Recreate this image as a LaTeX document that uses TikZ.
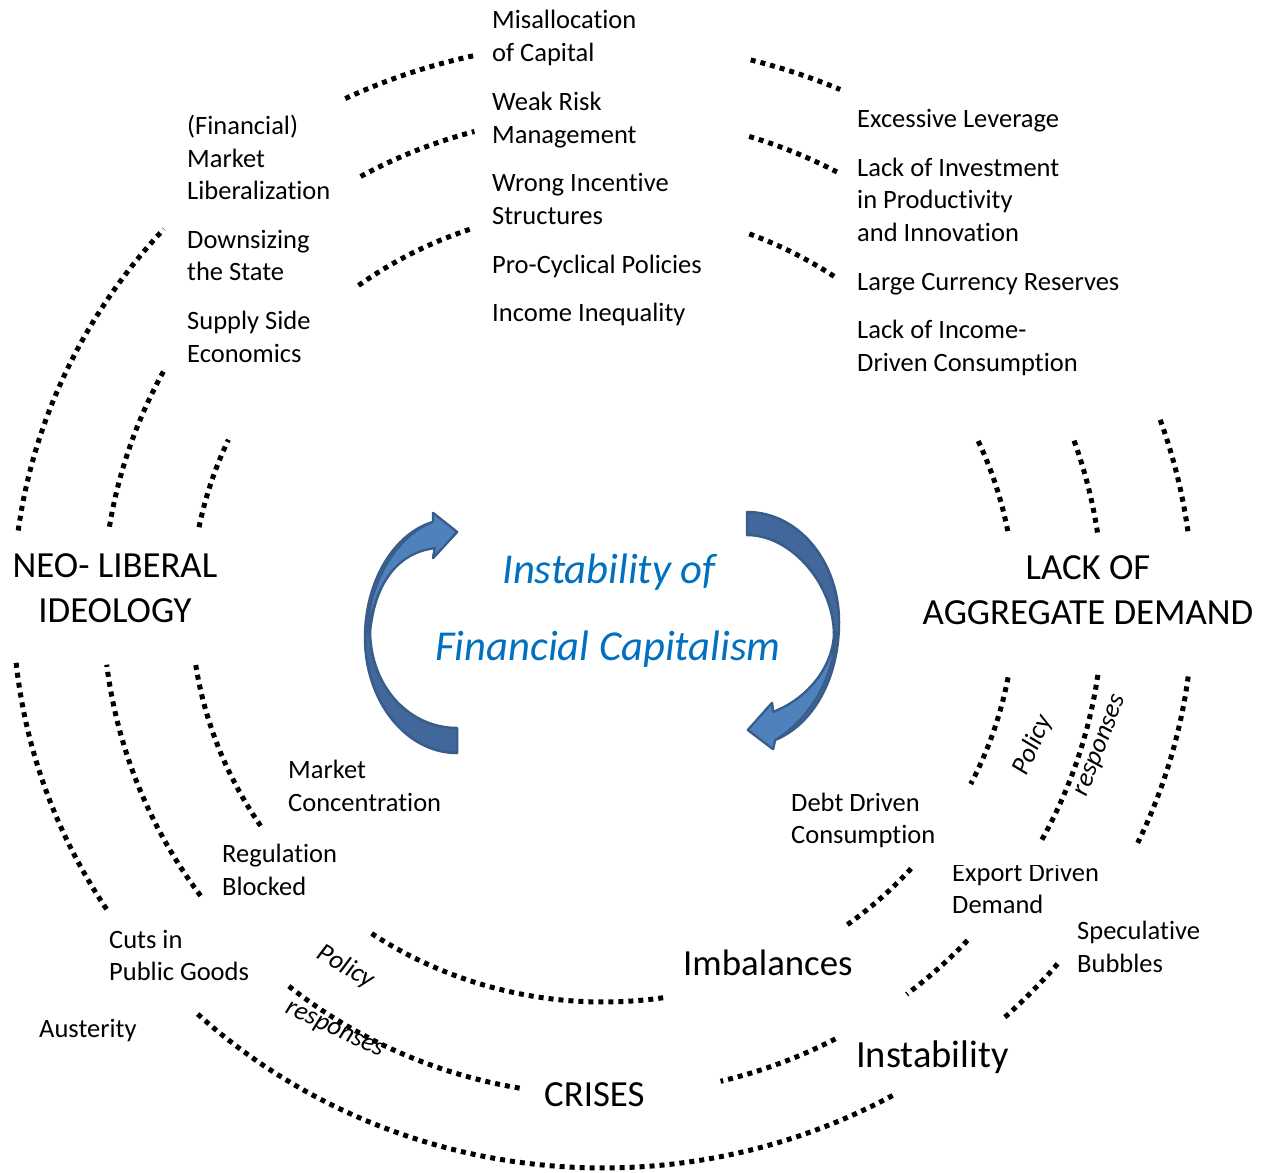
\documentclass[tikz,border=0pt]{standalone}
\usepackage{fontspec}
\setmainfont{Carlito}[RawFeature={-liga;-clig;-calt}]
\definecolor{titleblue}{HTML}{0070C0}
\definecolor{arrlight}{HTML}{4F81BD}
\definecolor{arrdark}{HTML}{41679B}
\definecolor{arrline}{HTML}{385D8A}
\newcommand{\ringarc}[4]{\draw[dotline] plot[domain=#3:#4, samples=60] ({603+#1*cos(\x)},{605+#2*sin(\x)});}
\begin{document}
\begin{tikzpicture}[x=1pt,y=-1pt,
  dotline/.style={line width=5pt, dash pattern=on 5pt off 5pt},
  txt/.style={font=\fontsize{26.5}{33}\selectfont, inner sep=0pt, anchor=base west},
  big/.style={font=\fontsize{36.8}{45}\selectfont, inner sep=0pt, anchor=base},
  bigl/.style={font=\fontsize{36.8}{45}\selectfont, inner sep=0pt, anchor=base west},
  pol/.style={font=\fontsize{26.5}{33}\selectfont\itshape, inner sep=0pt},
  ttl/.style={font=\fontsize{42.6}{52}\selectfont\itshape, text=titleblue, inner sep=0pt, anchor=base},
  arrbody/.style={fill=arrdark, draw=arrline, line width=2.5pt, line join=round},
  arrfront/.style={fill=arrlight, draw=arrline, line width=2pt, line join=round}]
\fill[white] (0,0) rectangle (1268,1172);
\useasboundingbox (0,0) rectangle (1268,1172);

% inner ring
\ringarc{412}{397}{-126.4}{-108.2}
\ringarc{412}{397}{-69.2}{-55.3}
\ringarc{412}{397}{-24.4}{-10.3}
\ringarc{412}{397}{10.5}{26.8}
\ringarc{412}{397}{41.6}{54.2}
\ringarc{412}{397}{81.6}{124.5}
\ringarc{412}{397}{146.2}{171.3}
\ringarc{412}{397}{191.3}{204.6}
% middle ring
\ringarc{500}{490}{-119}{-104.9}
\ringarc{500}{490}{-73}{-62.1}
\ringarc{500}{490}{-19.6}{-8.4}
\ringarc{500}{490}{8.2}{29.1}
\ringarc{500}{490}{43.2}{52.6}
\ringarc{500}{490}{62.3}{76.4}
\ringarc{500}{490}{99.6}{129.2}
\ringarc{500}{490}{143.6}{173}
\ringarc{500}{490}{189.2}{208.7}
% outer ring
\ringarc{590}{563}{-115.9}{-102.7}
\ringarc{590}{563}{-75.5}{-66.3}
\ringarc{590}{563}{-19.2}{-7.5}
\ringarc{590}{563}{7.3}{25}
\ringarc{590}{563}{39.6}{47.1}
\ringarc{590}{563}{60.6}{133.7}
\ringarc{590}{563}{147.3}{174.4}
\ringarc{590}{563}{187.6}{221.9}

% left curved arrow
\path[arrbody] (457,753) .. controls (406,753) and (365,701) .. (365,638)
  .. controls (365,580) and (395,533) .. (433,522) -- (433,513) -- (457,532)
  -- (433,558) -- (435,548) .. controls (400,552) and (375,580) .. (370,632)
  .. controls (371,688) and (410,728) .. (457,728) -- cycle;
\path[arrfront] (433,522) -- (433,513) -- (457,532) -- (433,558) -- (435,548)
  .. controls (400,552) and (375,580) .. (368,634)
  .. controls (367,585) and (397,535) .. (433,522) -- cycle;
% right curved arrow
\path[arrbody] (747,512) .. controls (798,512) and (839,561) .. (839,622)
  .. controls (839,680) and (812,725) .. (775,740) -- (773,749) -- (748,730)
  -- (772,703) -- (773,712) .. controls (805,700) and (832,670) .. (834,635)
  .. controls (834,585) and (792,535) .. (747,535) -- cycle;
\path[arrfront] (775,740) -- (773,749) -- (748,730) -- (772,703) -- (773,712)
  .. controls (805,700) and (832,670) .. (836,632)
  .. controls (834,680) and (808,720) .. (775,740) -- cycle;

% title
\node[ttl] (t1) at (609,583) {Instability of};
\node[ttl] (t2) at (608,660) {Financial Capitalism};

% top middle column
\node[txt] (a1) at (492,29) {Misallocation};
\node[txt] (a2) at (492,62) {of Capital};
\node[txt] (b1) at (492,110) {Weak Risk};
\node[txt] (b2) at (492,143) {Management};
\node[txt] (c1) at (492,191) {Wrong Incentive};
\node[txt] (c2) at (492,224) {Structures};
\node[txt] (d1) at (492,273) {Pro-Cyclical Policies};
\node[txt] (e1) at (492,321) {Income Inequality};
% top left column
\node[txt] (f1) at (187,134) {(Financial)};
\node[txt] (f2) at (187,167) {Market};
\node[txt] (f3) at (187,199) {Liberalization};
\node[txt] (g1) at (187,248) {Downsizing};
\node[txt] (g2) at (187,280) {the State};
\node[txt] (h1) at (187,329) {Supply Side};
\node[txt] (h2) at (187,362) {Economics};
% top right column
\node[txt] (i1) at (857,127) {Excessive Leverage};
\node[txt] (j1) at (857,176) {Lack of Investment};
\node[txt] (j2) at (857,208) {in Productivity};
\node[txt] (j3) at (857,241) {and Innovation};
\node[txt] (k1) at (857,290) {Large Currency Reserves};
\node[txt] (l1) at (857,338) {Lack of Income-};
\node[txt] (l2) at (857,371) {Driven Consumption};
% main labels
\node[big] (n1) at (115,577) {NEO- LIBERAL};
\node[big] (n2) at (115,622) {IDEOLOGY};
\node[big] (m1) at (1088,579) {LACK OF};
\node[big] (m2) at (1088,624) {AGGREGATE DEMAND};
\node[bigl] (imb) at (683,975) {Imbalances};
\node[bigl, font=\fontsize{38.5}{46}\selectfont] (ins) at (856,1067) {Instability};
\node[bigl] (cri) at (544,1106) {CRISES};
% lower left
\node[txt] (o1) at (288,778) {Market};
\node[txt] (o2) at (288,811) {Concentration};
\node[txt] (p1) at (222,862) {Regulation};
\node[txt] (p2) at (222,895) {Blocked};
\node[txt] (q1) at (109,948) {Cuts in};
\node[txt] (q2) at (109,980) {Public Goods};
\node[txt] (r1) at (39,1037) {Austerity};
% lower right
\node[txt] (s1) at (791,811) {Debt Driven};
\node[txt] (s2) at (791,843) {Consumption};
\node[txt] (u1) at (952,881) {Export Driven};
\node[txt] (u2) at (952,913) {Demand};
\fill[white] (945,852) rectangle (1105,865.3);
\node[txt] (v1) at (1077,939) {Speculative};
\node[txt] (v2) at (1077,972) {Bubbles};
% policy responses
\node[pol, rotate=-30] (pl1) at (346,967) {Policy};
\node[pol, rotate=-25] (pl2) at (334,1031) {responses};
\node[pol, rotate=66] (pr1) at (1033,745) {Policy};
\node[pol, rotate=69] (pr2) at (1102,746) {responses};
\end{tikzpicture}
\end{document}
